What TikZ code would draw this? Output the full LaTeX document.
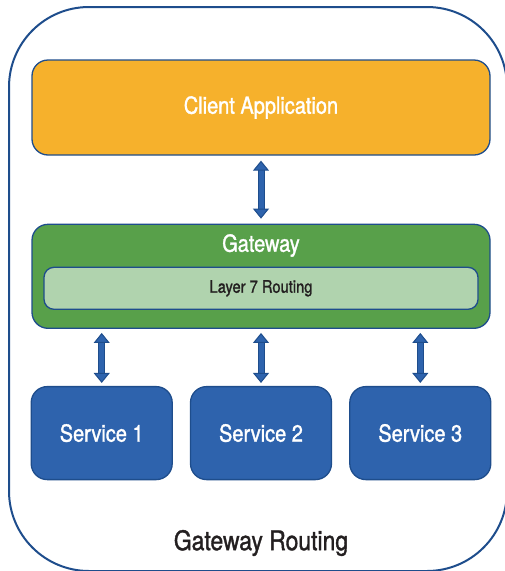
\documentclass[tikz,border=0pt]{standalone}
\usepackage{xcolor}
\usepackage{fontspec}
\newfontfamily\condfont[FakeStretch=0.85, FakeBold=1.3]{TeX Gyre Heros}
\usetikzlibrary{arrows.meta, positioning}

\definecolor{frameblue}{HTML}{1E4D8C}
\definecolor{clientorange}{HTML}{F6B12C}
\definecolor{gwgreen}{HTML}{58A04A}
\definecolor{routegreen}{HTML}{B0D3AE}
\definecolor{svcblue}{HTML}{2E63AD}
\definecolor{textdark}{HTML}{231F20}

\begin{document}
\begin{tikzpicture}[
    x=1pt, y=-1pt,
    box/.style={rectangle, draw=frameblue, line width=1.3pt, rounded corners=16pt,
                inner sep=0pt, align=center, text=white,
                font=\condfont\fontsize{23.5}{26}\selectfont},
    svcbox/.style={box, fill=svcblue, minimum width=141pt, minimum height=93pt},
    dblarr/.style={{Triangle[length=10pt, width=16pt, fill=svcblue]}-{Triangle[length=10pt, width=16pt, fill=svcblue]},
                   draw=frameblue, line width=1pt, double=svcblue, double distance=5pt},
  ]
    \useasboundingbox (0,0) rectangle (504,571);

    % outer frame
    \draw[frameblue, line width=2pt, rounded corners=80pt] (9,7) rectangle (507,571);

    \node[box, fill=clientorange, minimum width=458pt, minimum height=95pt] (client)
        at (261,107.5) {Client Application};
    \node[box, fill=gwgreen, minimum width=458pt, minimum height=104pt,
          below=68pt of client] (gateway) {};
    \node[font=\condfont\fontsize{23.5}{26}\selectfont, text=white,
          below=7pt of gateway.north] (gwlabel) {Gateway};
    \node[box, fill=routegreen, rounded corners=10pt, text=textdark,
          minimum width=434pt, minimum height=42pt,
          font=\condfont\fontsize{17.3}{20}\selectfont,
          above=19pt of gateway.south] (routing) {Layer 7 Routing};

    % services
    \node[svcbox, below=57pt of gateway] (svc2) {Service 2};
    \node[svcbox, left=17pt of svc2]  (svc1) {Service 1};
    \node[svcbox, right=17pt of svc2] (svc3) {Service 3};

    \node[text=textdark, font=\condfont\fontsize{27}{30}\selectfont] (title)
        at (261,543) {Gateway Routing};

    % arrows
    \draw[dblarr, shorten <=5pt, shorten >=5pt] (client) -- (gateway);
    \foreach \s in {svc1, svc2, svc3}
      \draw[dblarr, shorten <=4pt, shorten >=3pt] (\s.north |- gateway.south) -- (\s.north);
\end{tikzpicture}
\end{document}
